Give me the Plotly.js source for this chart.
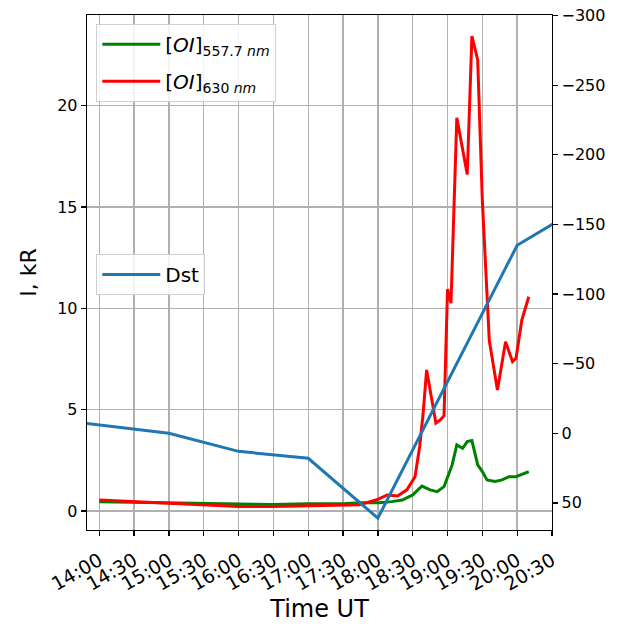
<!DOCTYPE html>
<html>
<head>
<meta charset="utf-8">
<script src="https://cdn.plot.ly/plotly-3.0.1.min.js"></script>
<style>html,body{margin:0;padding:0;background:#fff;}#chart{width:627px;height:626px;}</style>
</head>
<body>
<div id="chart"></div>
<script>
// ---- data ----
var day = "2000-01-01 ";
var xTickLabels = ["14:00","14:30","15:00","15:30","16:00","16:30","17:00","17:30","18:00","18:30","19:00","19:30","20:00","20:30"];

var greenTimes = ["14:00","14:30","15:00","15:30","16:00","16:30","17:00","17:30","17:44","18:01","18:12","18:21","18:30","18:38","18:45","18:51","18:57","19:01","19:04","19:08","19:13","19:17","19:21","19:26","19:30","19:34","19:41","19:47","19:53","19:59","20:10"];
var greenValues = [0.45,0.42,0.38,0.35,0.32,0.32,0.36,0.36,0.40,0.41,0.46,0.54,0.79,1.23,1.04,0.95,1.20,1.86,2.27,3.26,3.09,3.42,3.47,2.27,1.94,1.53,1.45,1.53,1.69,1.69,1.94];

var redTimes = ["14:00","14:15","14:30","15:00","15:30","16:00","16:30","17:00","17:30","17:44","17:59","18:08","18:17","18:25","18:32","18:36","18:39","18:42","18:50","18:54","18:57","19:00","19:03","19:08","19:17","19:21","19:26","19:30","19:36","19:43","19:50","19:56","19:59","20:04","20:10"];
var redValues = [0.54,0.50,0.46,0.35,0.28,0.22,0.22,0.25,0.25,0.30,0.55,0.79,0.74,1.04,1.69,3.17,4.82,6.96,4.33,4.50,4.70,10.94,10.25,19.40,16.60,23.43,22.25,15.30,8.40,5.97,8.35,7.37,7.53,9.42,10.57];

var dstTimes = ["13:00","14:00","15:00","16:00","17:00","18:00","19:00","20:00","21:00"];
var dstValues = [-12,-6,0,13,18,61,-37,-135,-165];

function toDates(arr){ return arr.map(function(t){ return day + t; }); }

var traces = [
  {x: toDates(greenTimes), y: greenValues, type:"scatter", mode:"lines",
   name:"[<i>OI</i>]<sub>557.7 <i>nm</i></sub>", line:{color:"#008000", width:3}, legend:"legend", legendgroup:"g1"},
  {x: toDates(redTimes), y: redValues, type:"scatter", mode:"lines",
   name:"[<i>OI</i>]<sub>630 <i>nm</i></sub>", line:{color:"#ff0000", width:3}, legend:"legend", legendgroup:"g2"},
  {x: toDates(dstTimes), y: dstValues, type:"scatter", mode:"lines", yaxis:"y2",
   name:"Dst", line:{color:"#1f77b4", width:3}, legend:"legend2"}
];

var tickFont = {family:"DejaVu Sans", size:16, color:"#000"};
var layout = {
  width:627, height:626,
  margin:{l:87, r:75, t:15, b:96},
  paper_bgcolor:"#fff", plot_bgcolor:"#fff",
  font: tickFont,
  xaxis:{
    type:"date",
    range:[day+"13:49:27", day+"20:30"],
    tickvals: toDates(xTickLabels), ticktext: xTickLabels,
    tickangle:-30,
    ticks:"outside", ticklen:5, tickcolor:"#000", tickwidth:1.3,
    showgrid:true, gridcolor:"#b0b0b0", gridwidth:1.4,
    showline:true, linecolor:"#000", linewidth:1.3, mirror:true,
    zeroline:false,
    tickfont:{family:"DejaVu Sans", size:19, color:"#000"},
    ticklabelstandoff:6,
    title:{text:"Time UT", font:{family:"DejaVu Sans", size:24, color:"#000"}, standoff:2}
  },
  yaxis:{
    range:[-0.94, 24.47],
    tickvals:[0,5,10,15,20],
    ticks:"outside", ticklen:5, tickcolor:"#000", tickwidth:1.3,
    showgrid:true, gridcolor:"#b0b0b0", gridwidth:1.4,
    showline:true, linecolor:"#000", linewidth:1.3,
    zeroline:false,
    tickfont:{family:"DejaVu Sans", size:16, color:"#000"},
    title:{text:"I, kR", font:{family:"DejaVu Sans", size:22, color:"#000"}, standoff:14}
  },
  yaxis2:{
    overlaying:"y", side:"right",
    range:[69.5, -300.4],
    tickvals:[50,0,-50,-100,-150,-200,-250,-300],
    ticks:"outside", ticklen:5, tickcolor:"#000", tickwidth:1.3,
    showgrid:false, zeroline:false,
    showline:true, linecolor:"#000", linewidth:1.3,
    tickfont:{family:"DejaVu Sans", size:16, color:"#000"}
  },
  legend:{
    x:0.02, y:0.983, xanchor:"left", yanchor:"top",
    bgcolor:"rgba(255,255,255,0.85)", bordercolor:"#d0d0d0", borderwidth:1,
    font:{family:"DejaVu Sans", size:20, color:"#000"},
    itemwidth:58, tracegroupgap:8, traceorder:"grouped"
  },
  legend2:{
    x:0.02, y:0.536, xanchor:"left", yanchor:"top",
    bgcolor:"rgba(255,255,255,0.85)", bordercolor:"#d0d0d0", borderwidth:1,
    font:{family:"DejaVu Sans", size:20, color:"#000"},
    itemwidth:58
  },
  showlegend:true
};

Plotly.newPlot("chart", traces, layout, {displayModeBar:false, staticPlot:true});
</script>
</body>
</html>
